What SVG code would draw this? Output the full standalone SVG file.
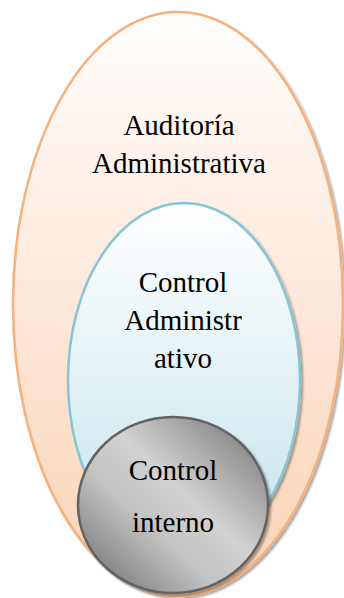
<svg xmlns="http://www.w3.org/2000/svg" width="344" height="598" viewBox="0 0 344 598">
  <defs>
    <linearGradient id="gradOuter" x1="0" y1="0" x2="0" y2="1">
      <stop offset="0" stop-color="#fffdfc"/>
      <stop offset="0.5" stop-color="#fde8da"/>
      <stop offset="1" stop-color="#fbd3b3"/>
    </linearGradient>
    <linearGradient id="gradInner" x1="0" y1="0" x2="0" y2="1">
      <stop offset="0" stop-color="#ffffff"/>
      <stop offset="0.5" stop-color="#e2f1f5"/>
      <stop offset="1" stop-color="#c4e2ea"/>
    </linearGradient>
    <linearGradient id="gradCore" x1="0.9" y1="0.1" x2="0.15" y2="0.85">
      <stop offset="0" stop-color="#858585"/>
      <stop offset="0.45" stop-color="#d2d2d2"/>
      <stop offset="0.7" stop-color="#c2c2c2"/>
      <stop offset="1" stop-color="#8a8a8a"/>
    </linearGradient>
    <filter id="shadow" x="-10%" y="-10%" width="125%" height="125%">
      <feDropShadow dx="2" dy="2" stdDeviation="1.2" flood-color="#000" flood-opacity="0.35"/>
    </filter>
  </defs>
  <style>
    text { font-family: "Liberation Serif", "Times New Roman", serif; font-size: 29px; fill: #000; text-anchor: middle; }
  </style>

  <g id="auditoria-administrativa">
    <ellipse cx="178" cy="304" rx="165" ry="292" fill="url(#gradOuter)" stroke="#f7b07a" stroke-width="2.5" filter="url(#shadow)"/>
    <text x="179" y="135" font-family="Liberation Serif, serif">Auditoría</text>
    <text x="179" y="173" font-family="Liberation Serif, serif">Administrativa</text>
  </g>

  <g id="control-administrativo">
    <ellipse cx="184" cy="380" rx="116" ry="177" fill="url(#gradInner)" stroke="#86c5d5" stroke-width="2.5" filter="url(#shadow)"/>
    <text x="183" y="292" font-family="Liberation Serif, serif">Control</text>
    <text x="183" y="330" font-family="Liberation Serif, serif">Administr</text>
    <text x="183" y="368" font-family="Liberation Serif, serif">ativo</text>
  </g>

  <g id="control-interno">
    <ellipse cx="173" cy="505" rx="95" ry="88" fill="url(#gradCore)" stroke="#636363" stroke-width="2.5" filter="url(#shadow)"/>
    <text x="173" y="480" font-family="Liberation Serif, serif">Control</text>
    <text x="173" y="532" font-family="Liberation Serif, serif">interno</text>
  </g>

  <g id="connectors"/>
</svg>
